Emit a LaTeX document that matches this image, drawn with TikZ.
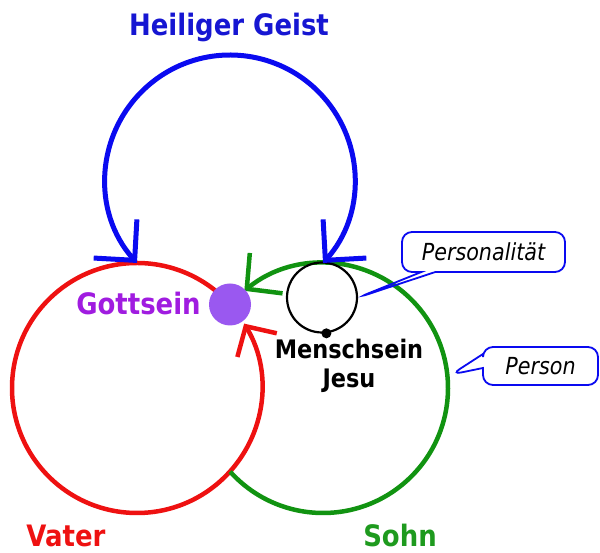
\documentclass[tikz,border=0pt]{standalone}
\usepackage{fontspec}
\newfontfamily\diafont{DejaVu Sans}[FakeStretch=0.88]
\usepackage{tikz}
\usetikzlibrary{arrows.meta,shapes.callouts}
\definecolor{vcol}{HTML}{EE1111}
\definecolor{scol}{HTML}{119311}
\definecolor{gcol}{HTML}{0A0AF0}
\definecolor{gtxt}{HTML}{1616D2}
\definecolor{stxt}{HTML}{1E9A1E}
\definecolor{ptxt}{HTML}{A01CE0}
\definecolor{pdot}{HTML}{9A58F0}
\tikzset{
  vline/.style={draw=vcol,line width=4.5pt,-{Straight Barb[length=22pt,width=46pt]}},
  sline/.style={draw=scol,line width=4.5pt,-{Straight Barb[length=25pt,width=52pt]}},
  gline/.style={draw=gcol,line width=5pt,{Straight Barb[length=29pt,width=58pt]}-{Straight Barb[length=29pt,width=58pt]}},
  lab/.style={font=\diafont\bfseries\fontsize{29.5}{32}\selectfont,inner sep=0pt,text depth=0pt,anchor=base},
  mlab/.style={font=\diafont\bfseries\fontsize{25.5}{29.7}\selectfont,inner sep=0pt,align=center},
  bub/.style={rectangle callout,draw=gcol,line width=1.8pt,rounded corners=10pt,callout pointer width=14pt,
    font=\diafont\itshape\fontsize{23.5}{26}\selectfont},
  gdot/.style={circle,fill=pdot,minimum size=42pt,inner sep=0pt},
  ring/.style={circle,draw=black,line width=2.2pt,minimum size=70pt,inner sep=0pt},
  bdot/.style={circle,fill=black,minimum size=10pt,inner sep=0pt},
}
\begin{document}
\begin{tikzpicture}[x=1pt,y=1pt]
\useasboundingbox (0,0) rectangle (600,553);
\coordinate (vc) at (137,165);
\coordinate (sc) at (323,165);
\coordinate (gc) at (230,373.2);
\draw[vline] ([shift={(42:125)}]vc) arc[start angle=42,end angle=391,radius=125];
\draw[sline] ([shift={(222:125)}]sc) arc[start angle=222,end angle=489,radius=125];
\node[ring] (jesus) at (322,255.5) {};
\node[bdot] (leib) at (jesus.-83) {};
\draw[gline] ([shift={(221.8:124.8)}]gc) arc[start angle=221.8,end angle=-41.8,radius=124.8];
\node[gdot] (gott) at (230,248.5) {};
\coordinate (stip) at ([shift={(6:129)}]sc);
\node[bub,minimum width=163pt,minimum height=40pt,callout absolute pointer={(jesus.east)}] (persl) at (483.5,301) {Personalität};
\node[bub,minimum width=115pt,minimum height=38pt,callout absolute pointer={(stip)}] (pers) at (540.5,187) {Person};
\node[lab,text=gtxt] (geist) at (229,517) {Heiliger Geist};
\node[lab,text=ptxt] (gottsein) at (138.5,238) {Gottsein};
\node[lab,text=vcol] (vater) at (66,6) {Vater};
\node[lab,text=stxt] (sohn) at (400,6) {Sohn};
\node[mlab] (mensch) at (349,187) {Menschsein\\Jesu};
\end{tikzpicture}
\end{document}
